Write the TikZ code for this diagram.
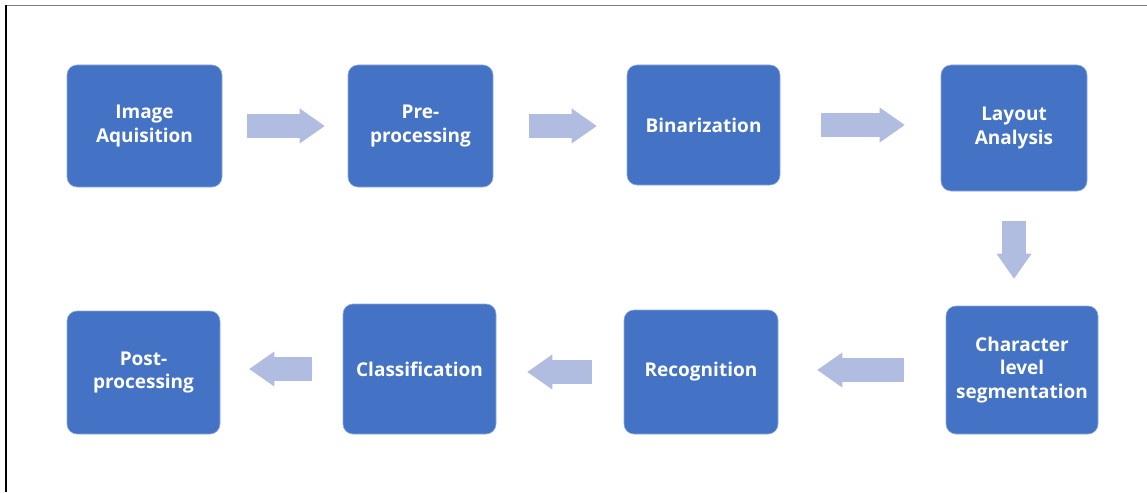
\documentclass[tikz,border=0pt]{standalone}
\usepackage{fontspec}
\setmainfont{Open Sans}
\usetikzlibrary{arrows.meta}
\definecolor{boxblue}{RGB}{68,114,196}
\definecolor{flowblue}{RGB}{176,189,224}
\begin{document}
\begin{tikzpicture}[x=1pt, y=-1pt, line join=round]

		\tikzset{box/.style={fill=boxblue, draw=boxblue!60!white, line width=.6pt, rounded corners=10pt, align=center, text=white, font=\bfseries\fontsize{19}{23.5}\selectfont},
		flow/.style={draw=flowblue, line width=24pt, -{Triangle[width=35pt, length=25pt, line width=0pt, fill=flowblue]}}}

		\useasboundingbox (0,0) rectangle (1147,492);
		\draw[gray, line width=1.5pt] (6,5.5)--(1147,5.5);
		\draw[line width=1.2pt] (6,5.5)--(6,492);

		\node[box, minimum width=155pt, minimum height=122pt] (img) at (144.5,126) {Image\\Aquisition};
		\node[box, minimum width=145pt, minimum height=122pt] (pre) at (420.5,126) {Pre-\\processing};
		\node[box, minimum width=153pt, minimum height=120pt] (bin) at (703.5,125) {Binarization};
		\node[box, minimum width=146pt, minimum height=126pt] (lay) at (1014,128) {Layout\\Analysis};
		\node[box, minimum width=152pt, minimum height=128pt] (seg) at (1022,370) {Character\\level\\segmentation};
		\node[box, minimum width=154pt, minimum height=124pt] (rec) at (701,372) {Recognition};
		\node[box, minimum width=153pt, minimum height=130pt] (cla) at (419.5,369) {Classification};
		\node[box, minimum width=153pt, minimum height=123pt] (post) at (143.5,372.5) {Post-\\processing};

		\draw[flow, shorten <=25pt, shorten >=23pt] (img.east) -- (img.east -| pre.west);
		\draw[flow, shorten <=36pt, shorten >=30pt] (pre.east) -- (pre.east -| bin.west);
		\draw[flow, shorten <=41pt, shorten >=36pt] (bin.east) -- (bin.east -| lay.west);
		\draw[flow, shorten <=30pt, shorten >=27pt, xshift=4pt] (lay.south) -- (lay.south |- seg.north);
		\draw[flow, shorten <=42pt, shorten >=39pt] (seg.west) -- (seg.west -| rec.east);
		\draw[flow, shorten <=32pt, shorten >=31pt] (rec.west) -- (rec.west -| cla.east);
		\draw[flow, shorten <=31pt, shorten >=29pt] (cla.west) -- (cla.west -| post.east);
	\end{tikzpicture}
\end{document}
